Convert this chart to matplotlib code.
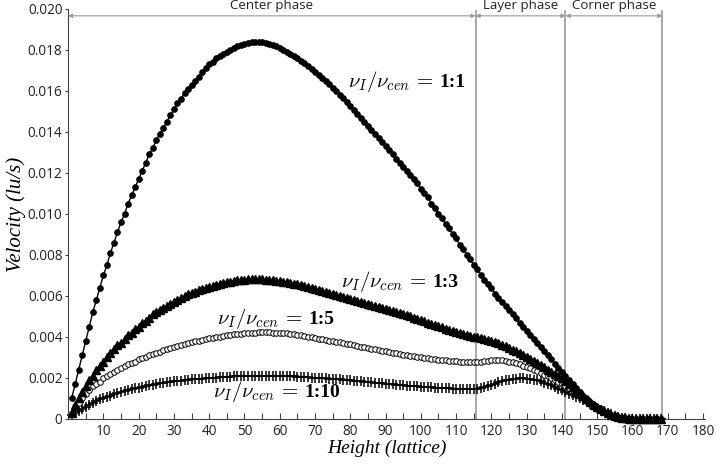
import numpy as np
import matplotlib
matplotlib.use('Agg')
import matplotlib.pyplot as plt

plt.rcParams['mathtext.fontset'] = 'cm'

# heights in lattice units (one sample per lattice node)
height = np.arange(1, 169)

# velocity (lu/s) for each injection ratio
v_1_1 = [
    0.0010, 0.0017, 0.0024, 0.0031, 0.0038, 0.0045, 0.0052, 0.0058, 0.0064, 0.0070,
    0.0075, 0.0081, 0.0086, 0.0091, 0.0096, 0.0100, 0.0105, 0.0109, 0.0113, 0.0117,
    0.0121, 0.0125, 0.0129, 0.0132, 0.0136, 0.0139, 0.0142, 0.0145, 0.0148, 0.0151,
    0.0154, 0.0156, 0.0159, 0.0161, 0.0163, 0.0165, 0.0167, 0.0169, 0.0171, 0.0173,
    0.0174, 0.0176, 0.0177, 0.0178, 0.0179, 0.0180, 0.0181, 0.0182, 0.01825, 0.0183,
    0.01835, 0.01838, 0.0184, 0.0184, 0.01838, 0.01835, 0.0183, 0.01824, 0.01817, 0.0181,
    0.0180, 0.0179, 0.0178, 0.0177, 0.0176, 0.01748, 0.01735, 0.01722, 0.01708, 0.01694,
    0.01679, 0.01664, 0.01648, 0.01632, 0.01615, 0.01598, 0.01581, 0.01563, 0.01545, 0.01527,
    0.01508, 0.01489, 0.0147, 0.0145, 0.0143, 0.0141, 0.0139, 0.0137, 0.0135, 0.0133,
    0.0131, 0.0129, 0.0127, 0.0125, 0.0123, 0.0121, 0.0119, 0.0117, 0.0115, 0.0112,
    0.0110, 0.0108, 0.0105, 0.0103, 0.0100, 0.0098, 0.0095, 0.0093, 0.0090, 0.0088,
    0.0085, 0.0083, 0.0080, 0.0078, 0.0075, 0.0073, 0.0070, 0.0068, 0.0066, 0.0064,
    0.0061, 0.0059, 0.0057, 0.0055, 0.0053, 0.0051, 0.0049, 0.0047, 0.0045, 0.0043,
    0.0041, 0.0039, 0.0037, 0.0035, 0.0033, 0.0031, 0.0029, 0.0027, 0.0025, 0.0023,
    0.0021, 0.0019, 0.0017, 0.0015, 0.0013, 0.00112, 0.00095, 0.0008, 0.00066, 0.00054,
    0.00043, 0.00034, 0.00026, 0.00019, 0.00013, 0.00008, 0.00005, 0.00003, 0.00001, 0,
    0, 0, 0, 0, 0, 0, 0, 0,
]
v_1_3 = [
    0.0003, 0.0007, 0.0010, 0.0013, 0.0016, 0.0019, 0.0021, 0.0024, 0.0026, 0.0028,
    0.0030, 0.0032, 0.0034, 0.0036, 0.0037, 0.0039, 0.0041, 0.0042, 0.0044, 0.0045,
    0.0047, 0.0048, 0.0049, 0.0051, 0.0052, 0.0053, 0.0054, 0.0055, 0.0056, 0.0057,
    0.0058, 0.0059, 0.0060, 0.0061, 0.00615, 0.0062, 0.0063, 0.00635, 0.0064, 0.00645,
    0.0065, 0.00655, 0.0066, 0.00664, 0.00667, 0.0067, 0.00673, 0.00676, 0.00678, 0.0068,
    0.00681, 0.00682, 0.00682, 0.00682, 0.00681, 0.0068, 0.00679, 0.00677, 0.00675, 0.00673,
    0.0067, 0.00667, 0.00664, 0.0066, 0.00656, 0.00652, 0.00648, 0.00644, 0.0064, 0.00635,
    0.0063, 0.00625, 0.0062, 0.00615, 0.0061, 0.00605, 0.006, 0.00595, 0.0059, 0.00585,
    0.0058, 0.00575, 0.0057, 0.00565, 0.0056, 0.00555, 0.0055, 0.00545, 0.0054, 0.00535,
    0.0053, 0.00525, 0.0052, 0.00515, 0.0051, 0.00505, 0.005, 0.00494, 0.00488, 0.00482,
    0.00476, 0.0047, 0.00464, 0.00458, 0.00452, 0.00446, 0.0044, 0.00435, 0.0043, 0.00425,
    0.0042, 0.00415, 0.0041, 0.00406, 0.00402, 0.00398, 0.00394, 0.0039, 0.00385, 0.0038,
    0.00374, 0.00368, 0.00361, 0.00354, 0.00346, 0.00338, 0.0033, 0.00321, 0.00312, 0.00303,
    0.00293, 0.00283, 0.00273, 0.00262, 0.00252, 0.00241, 0.00231, 0.0022, 0.0021, 0.0020,
    0.00185, 0.0017, 0.00155, 0.0014, 0.00125, 0.0011, 0.00096, 0.00083, 0.0007, 0.00058,
    0.00047, 0.00037, 0.00028, 0.0002, 0.00014, 0.00009, 0.00005, 0.00003, 0.00001, 0,
    0, 0, 0, 0, 0, 0, 0, 0,
]
v_1_5 = [
    0.0003, 0.0006, 0.0008, 0.0010, 0.0012, 0.0014, 0.0016, 0.0017, 0.0018, 0.0020,
    0.0021, 0.0022, 0.0023, 0.0024, 0.0025, 0.0026, 0.0027, 0.00275, 0.0028, 0.0029,
    0.00297, 0.00304, 0.0031, 0.00316, 0.00322, 0.00328, 0.00334, 0.0034, 0.00345, 0.0035,
    0.00355, 0.0036, 0.00365, 0.0037, 0.00374, 0.00378, 0.00382, 0.00386, 0.0039, 0.00393,
    0.00396, 0.00399, 0.00402, 0.00405, 0.00408, 0.0041, 0.00412, 0.00414, 0.00416, 0.00418,
    0.00419, 0.0042, 0.00421, 0.00422, 0.00422, 0.00422, 0.00422, 0.00421, 0.0042, 0.00419,
    0.00418, 0.00417, 0.00415, 0.00413, 0.0041, 0.00407, 0.00404, 0.00401, 0.00398, 0.00395,
    0.00392, 0.00389, 0.00386, 0.00382, 0.00379, 0.00376, 0.00373, 0.0037, 0.00367, 0.00364,
    0.0036, 0.00357, 0.00353, 0.0035, 0.00346, 0.00343, 0.0034, 0.00336, 0.00333, 0.0033,
    0.00326, 0.00323, 0.0032, 0.00317, 0.00314, 0.00311, 0.00308, 0.00305, 0.00302, 0.003,
    0.00297, 0.00295, 0.00293, 0.00291, 0.00289, 0.00287, 0.00285, 0.00284, 0.00282, 0.00281,
    0.0028, 0.00279, 0.00278, 0.00278, 0.00278, 0.00279, 0.0028, 0.00282, 0.00284, 0.00285,
    0.00286, 0.00286, 0.00285, 0.00283, 0.0028, 0.00276, 0.00271, 0.00266, 0.0026, 0.00254,
    0.00247, 0.0024, 0.00232, 0.00224, 0.00216, 0.00207, 0.00198, 0.00189, 0.0018, 0.00171,
    0.00162, 0.00152, 0.00142, 0.00132, 0.00121, 0.00107, 0.00094, 0.00081, 0.00069, 0.00057,
    0.00046, 0.00036, 0.00027, 0.0002, 0.00014, 0.00009, 0.00005, 0.00003, 0.00001, 0,
    0, 0, 0, 0, 0, 0, 0, 0,
]
v_1_10 = [
    0.0002, 0.0003, 0.0004, 0.0005, 0.0006, 0.0007, 0.0008, 0.00088, 0.00095, 0.00102,
    0.00108, 0.00114, 0.0012, 0.00126, 0.00131, 0.00136, 0.00141, 0.00145, 0.00149, 0.00153,
    0.00157, 0.0016, 0.00164, 0.00167, 0.0017, 0.00173, 0.00176, 0.00178, 0.00181, 0.00183,
    0.00185, 0.00187, 0.00189, 0.00191, 0.00193, 0.00194, 0.00196, 0.00197, 0.00198, 0.002,
    0.00201, 0.00202, 0.00203, 0.00204, 0.00205, 0.00206, 0.00207, 0.00207, 0.00208, 0.00208,
    0.00209, 0.00209, 0.00209, 0.00209, 0.00209, 0.00209, 0.00209, 0.00209, 0.00209, 0.00209,
    0.00208, 0.00208, 0.00207, 0.00207, 0.00206, 0.00205, 0.00204, 0.00203, 0.00202, 0.00201,
    0.002, 0.00199, 0.00198, 0.00197, 0.00195, 0.00194, 0.00193, 0.00191, 0.0019, 0.00188,
    0.00187, 0.00185, 0.00184, 0.00182, 0.0018, 0.00179, 0.00177, 0.00175, 0.00174, 0.00172,
    0.0017, 0.00169, 0.00167, 0.00166, 0.00164, 0.00163, 0.00161, 0.0016, 0.00159, 0.00157,
    0.00156, 0.00155, 0.00154, 0.00153, 0.00152, 0.00151, 0.0015, 0.00149, 0.00148, 0.00148,
    0.00147, 0.00147, 0.00146, 0.00146, 0.00146, 0.00147, 0.0015, 0.00155, 0.0016, 0.00166,
    0.00172, 0.00178, 0.00183, 0.00188, 0.00192, 0.00195, 0.00197, 0.00198, 0.00198, 0.00197,
    0.00195, 0.00192, 0.00188, 0.00183, 0.00177, 0.00171, 0.00164, 0.00156, 0.00148, 0.0014,
    0.00132, 0.00124, 0.00116, 0.00108, 0.001, 0.00091, 0.00082, 0.00073, 0.00064, 0.00055,
    0.00046, 0.00037, 0.00029, 0.00022, 0.00015, 0.0001, 0.00006, 0.00003, 0.00001, 0,
    0, 0, 0, 0, 0, 0, 0, 0,
]

# phase boundaries (lattice height)
phase_edges = [0, 115.5, 141, 168.5]
phase_names = ['Center phase', 'Layer phase', 'Corner phase']

ratio_labels = ['1:1', '1:3', '1:5', '1:10']
label_pos = [(79.3, 0.01644), (77.3, 0.00668), (42.3, 0.00488), (41.2, 0.00132)]

fig = plt.figure(figsize=(7.17, 4.66), dpi=100)
ax = fig.add_axes([0.095, 0.101, 0.888, 0.88])

ax.plot(height, v_1_1, color='black', lw=1, marker='o', ms=3.8, mec='black', mfc='black', clip_on=False, zorder=5)
ax.plot(height, v_1_3, color='black', lw=1, marker='^', ms=5.5, mec='black', mfc='black', clip_on=False, zorder=4)
ax.plot(height, v_1_5, color='black', lw=0.6, marker='o', ms=4, mec='black', mfc='white', mew=0.7, clip_on=False, zorder=3)
ax.plot(height, v_1_10, color='black', lw=1, marker='+', ms=6.5, mew=1.1, clip_on=False, zorder=2)

# ratio labels: math part + bold serif ratio
for (x, y), r in zip(label_pos, ratio_labels):
    t = ax.text(x, y, r'$\nu_I/\nu_{cen}\,=$', fontsize=15, ha='left', va='center', zorder=6)
    ax.annotate(r, xy=(1, 0.47), xycoords=t, xytext=(4, 0), textcoords='offset points',
                ha='left', va='center', fontsize=14, weight='bold', family='Liberation Serif', zorder=6)

# phase markers
top = 0.01966
gray = '#9a9a9a'
for xe in phase_edges[1:]:
    ax.plot([xe, xe], [0, 0.0199], color=gray, lw=1.2, zorder=1, clip_on=False)
for i, name in enumerate(phase_names):
    a, b = phase_edges[i], phase_edges[i + 1]
    ax.annotate('', xy=(a, top), xytext=(b, top),
                arrowprops=dict(arrowstyle='<|-|>', color=gray, lw=0.8, mutation_scale=6,
                                shrinkA=0, shrinkB=0), annotation_clip=False)
    ax.text((a + b) / 2, 0.01985, name, ha='center', va='bottom', fontsize=9.5,
            family='Open Sans', color='#222222')

ax.set_xlim(0, 180.5)
ax.set_ylim(0, 0.0200)
ax.set_xticks(np.arange(10, 181, 10))
ax.set_xticks(np.arange(5, 181, 10), minor=True)
ax.set_yticks(np.arange(0, 0.0201, 0.002))
ax.set_yticklabels(['0'] + ['%.3f' % t for t in np.arange(0.002, 0.0201, 0.002)])
ax.tick_params(axis='x', which='both', direction='in', length=4, width=0.8, color='#444444')
ax.tick_params(axis='y', direction='out', length=2.5, width=0.8, color='#444444', pad=1.5)
for lab in ax.get_xticklabels() + ax.get_yticklabels():
    lab.set_family('Open Sans')
    lab.set_fontsize(9.8)
    lab.set_color('#222222')

for s in ['top', 'right']:
    ax.spines[s].set_visible(False)
for s in ['left', 'bottom']:
    ax.spines[s].set_color('#444444')
    ax.spines[s].set_linewidth(0.8)

ax.set_xlabel('Height (lattice)', family='Liberation Serif', style='italic', fontsize=14, labelpad=1)
ax.set_ylabel('Velocity (lu/s)', family='Liberation Serif', style='italic', fontsize=15, labelpad=1)

fig.savefig('out.png', dpi=100)
